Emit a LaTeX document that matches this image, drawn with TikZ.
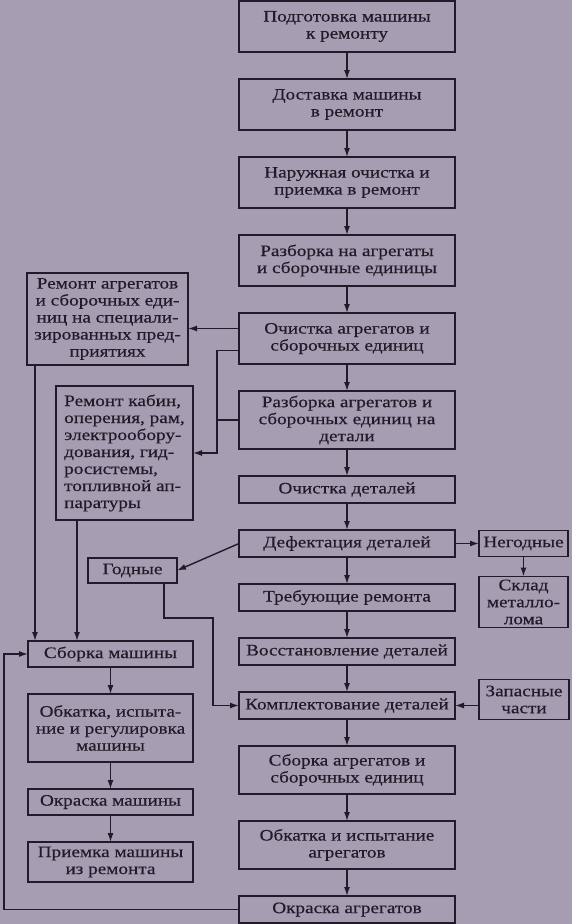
\documentclass[tikz,border=0pt]{standalone}
\usepackage{fontspec}
\setmainfont[FakeStretch=1.2,FakeBold=0.4]{Liberation Serif}
\usepackage{tikz}
\usetikzlibrary{arrows.meta,positioning}

\definecolor{paper}{RGB}{166,157,179}
\definecolor{ink}{RGB}{34,26,40}

\begin{document}
\begin{tikzpicture}[
  x=1pt, y=1pt,
  node distance=27pt,
  every node/.style={font=\fontsize{16}{17}\selectfont, text=ink, outer sep=0pt},
  stagebox/.style={rectangle, draw=ink, line width=1.5pt, align=center, minimum width=216pt, inner sep=0pt},
  twoline/.style={stagebox, minimum height=51pt},
  oneline/.style={stagebox, minimum height=27pt},
  sidebox/.style={rectangle, draw=ink, line width=1.5pt, align=center, inner sep=0pt},
  arrow/.style={-{Latex[length=9pt,width=6pt]}, line width=1.4pt, draw=ink},
  link/.style={line width=1.4pt, draw=ink}
]
\fill[paper] (0,0) rectangle (572,-924);
\useasboundingbox (0,0) rectangle (572,-924);

% Main column
\node[twoline] (prep) at (347,-26.5) {Подготовка машины\\к ремонту};
\node[twoline, below=of prep] (deliv) {Доставка машины\\в ремонт};
\node[twoline, below=of deliv] (wash) {Наружная очистка и\\приемка в ремонт};
\node[twoline, below=of wash] (disasm) {Разборка на агрегаты\\и сборочные единицы};
\node[twoline, below=of disasm] (cleanagg) {Очистка агрегатов и\\сборочных единиц};
\node[stagebox, minimum height=58pt, below=of cleanagg] (disdet) {Разборка агрегатов и\\сборочных единиц на\\детали};
\node[oneline, below=of disdet] (cleandet) {Очистка деталей};
\node[oneline, below=of cleandet] (defect) {Дефектация деталей};
\node[oneline, below=of defect] (needrep) {Требующие ремонта};
\node[oneline, below=of needrep] (restore) {Восстановление деталей};
\node[oneline, below=of restore] (kompl) {Комплектование деталей};
\node[stagebox, minimum height=48pt, below=of kompl] (asmagg) {Сборка агрегатов и\\сборочных единиц};
\node[stagebox, minimum height=48pt, below=of asmagg] (runagg) {Обкатка и испытание\\агрегатов};
\node[oneline, below=of runagg] (paintagg) {Окраска агрегатов};

% Left column
\node[sidebox, minimum width=161pt, minimum height=92pt] (spec) at (107.5,-319) {Ремонт агрегатов\\и сборочных еди-\\ниц на специали-\\зированных пред-\\приятиях};
\node[sidebox, align=left, minimum width=137pt, minimum height=134pt] (cabin) at (124.5,-453) {Ремонт кабин,\\оперения, рам,\\электрообору-\\дования, гид-\\росистемы,\\топливной ап-\\паратуры};
\node[sidebox, minimum width=89pt, minimum height=25pt] (good) at (132.5,-570.5) {Годные};
\node[sidebox, minimum width=165pt, minimum height=26pt] (asmmach) at (110.5,-654) {Сборка машины};
\node[sidebox, minimum width=165pt, minimum height=68pt, below=of asmmach] (runmach) {Обкатка, испыта-\\ние и регулировка\\машины};
\node[sidebox, minimum width=165pt, minimum height=26pt, below=of runmach] (paintmach) {Окраска машины};
\node[sidebox, minimum width=165pt, minimum height=40pt, below=of paintmach] (accept) {Приемка машины\\из ремонта};

% Right column
\node[sidebox, minimum width=89pt, minimum height=26pt, right=24pt of defect] (bad) {Негодные};
\node[sidebox, minimum width=89pt, minimum height=51pt, below=20pt of bad] (scrap) {Склад\\металло-\\лома};
\node[sidebox, minimum width=90pt, minimum height=40pt, right=24pt of kompl, yshift=6pt] (spare) {Запасные\\части};

\coordinate (specout) at ([xshift=8pt]spec.south west);
\coordinate (cabinout) at ([xshift=21pt]cabin.south west);
\coordinate (gbend) at (213,-618);

% Flow arrows - main column
\draw[arrow] (prep) -- (deliv);
\draw[arrow] (deliv) -- (wash);
\draw[arrow] (wash) -- (disasm);
\draw[arrow] (disasm) -- (cleanagg);
\draw[arrow] (cleanagg) -- (disdet);
\draw[arrow] (disdet) -- (cleandet);
\draw[arrow] (cleandet) -- (defect);
\draw[arrow] (defect) -- (needrep);
\draw[arrow] (needrep) -- (restore);
\draw[arrow] (restore) -- (kompl);
\draw[arrow] (kompl) -- (asmagg);
\draw[arrow] (asmagg) -- (runagg);
\draw[arrow] (runagg) -- (paintagg);

% Flow arrows - machine assembly
\draw[arrow] (asmmach) -- (runmach);
\draw[arrow] (runmach) -- (paintmach);
\draw[arrow] (paintmach) -- (accept);

% Side branches
\draw[arrow] ([yshift=10pt]cleanagg.west) -- ([yshift=10pt]cleanagg.west -| spec.east);
\draw[arrow] ([yshift=-12pt]cleanagg.west) -- ++(-22,0) |- (cabin.east);
\draw[link] (disdet.west) -- ++(-22,0);
\draw[arrow] (specout) -- (specout |- asmmach.north);
\draw[arrow] (cabinout) -- (cabinout |- asmmach.north);
\draw[arrow] (defect.west) -- (good.east);
\draw[arrow] ([xshift=-13pt]good.south east) |- (gbend) |- (kompl.west);
\draw[arrow] (defect) -- (bad);
\draw[arrow] (bad) -- (scrap);
\draw[arrow] ([yshift=-6pt]spare.west) -- (kompl.east);

% Painted units back to machine assembly
\draw[arrow] (paintagg.west) -- ++(-235,0) |- (asmmach.west);

\end{tikzpicture}
\end{document}
